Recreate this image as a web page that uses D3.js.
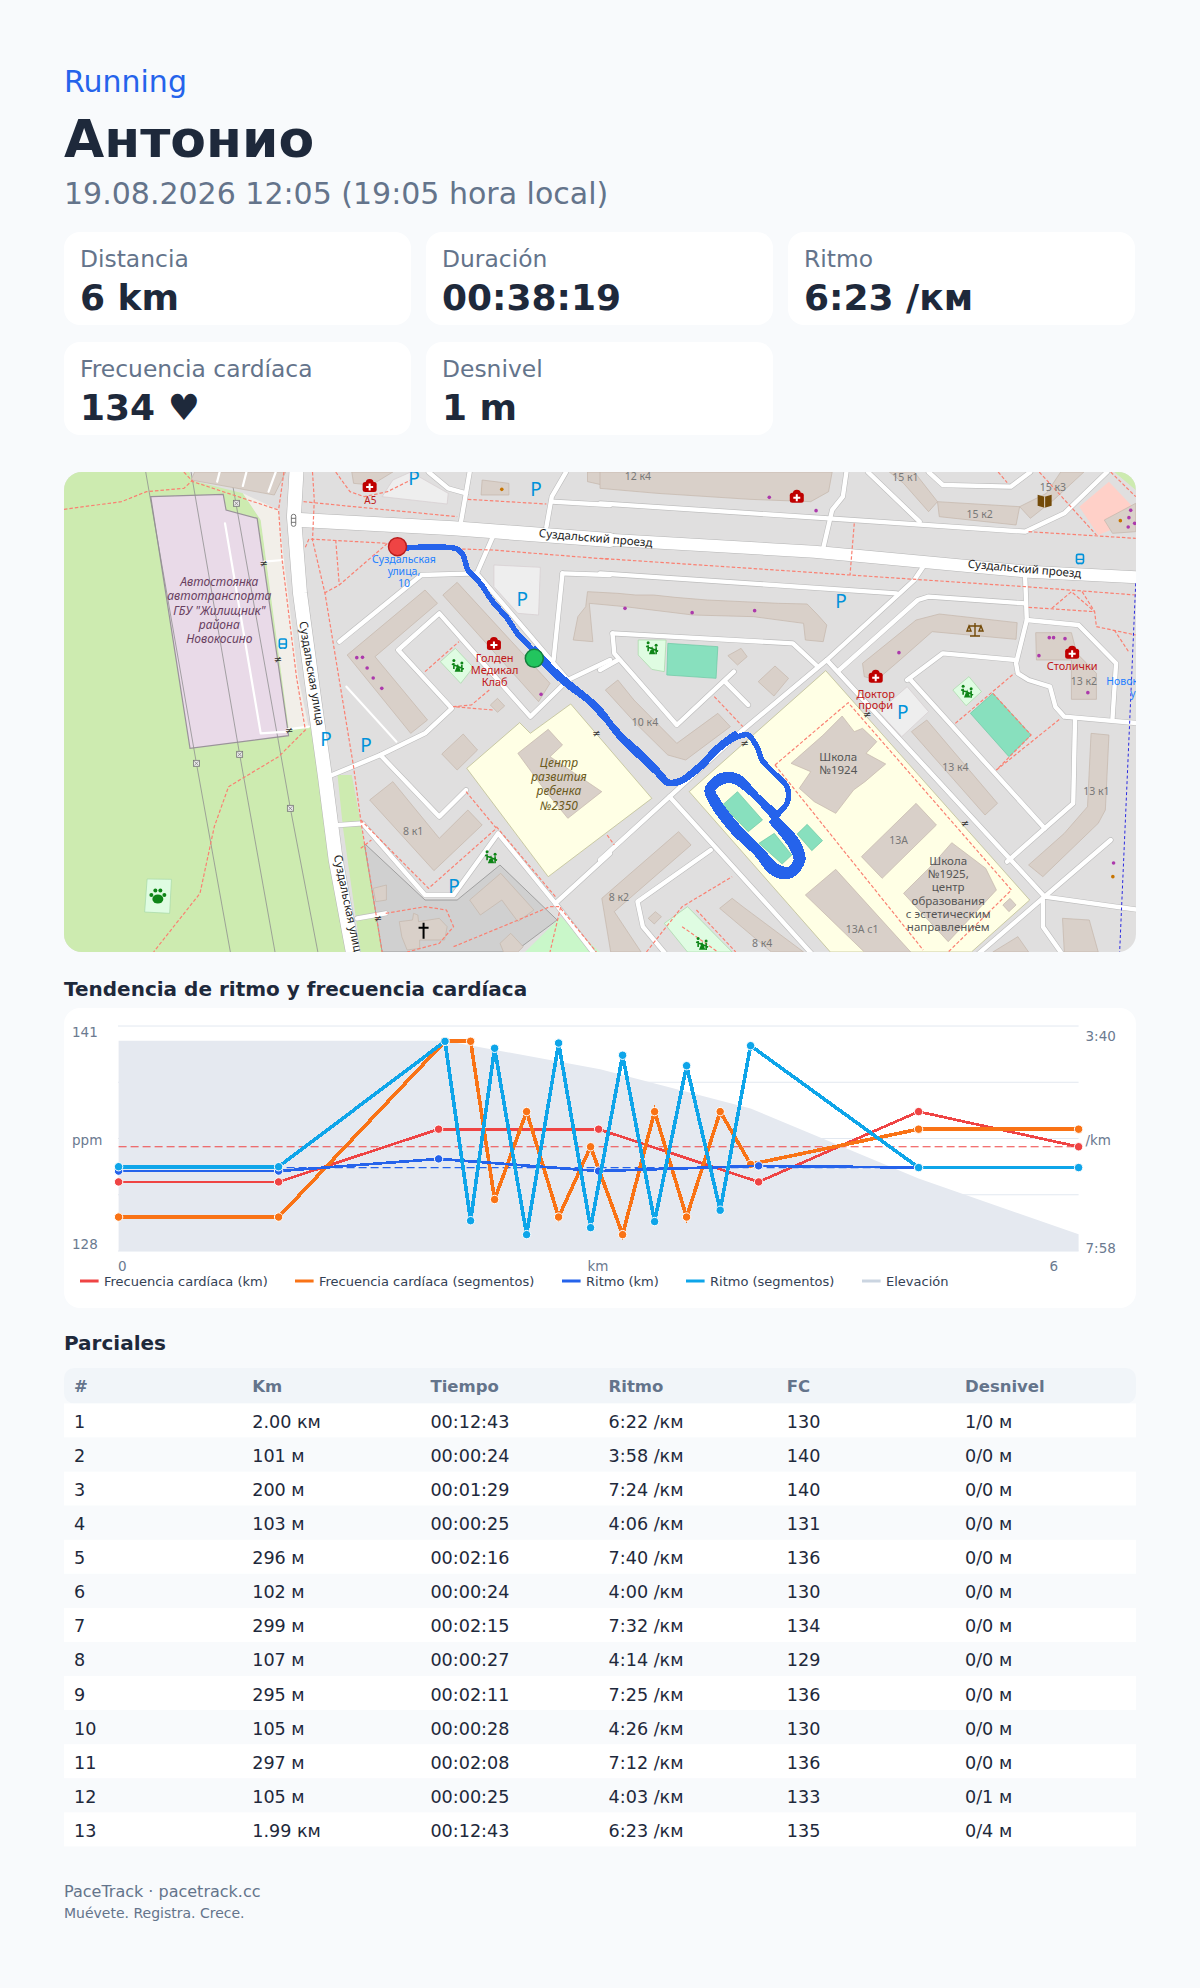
<!DOCTYPE html>
<html>
<head>
<meta charset="utf-8">
<title>Running</title>
<script src="https://cdnjs.cloudflare.com/ajax/libs/d3/7.8.5/d3.min.js"></script>
<style>
html, body { margin: 0; padding: 0; background: #f8fafc; }
svg { display: block; }
text { font-family: "DejaVu Sans", sans-serif; }
.maptext text { font-family: "Noto Sans", sans-serif; }
</style>
</head>
<body>
<div id="page"></div>
<script>
// ---- activity summary
var statLabels = ["Distancia", "Duración", "Ritmo", "Frecuencia cardíaca", "Desnivel"];
var statValues = ["6 km", "00:38:19", "6:23 /км", "134 ♥", "1 m"];

// ---- trend chart data (km along the track, bpm, pace in seconds per km)
var kmMarks = [0, 1, 2, 3, 4, 5, 6];
var hrKm = [132, 132, 135, 135, 132, 136, 134];
var paceKm = [387, 387, 373, 387, 381, 383, 383];
var segMarks = [0, 1, 2.04, 2.2, 2.35, 2.55, 2.75, 2.95, 3.15, 3.35, 3.55, 3.76, 3.95, 5, 6];
var hrSeg = [130, 130, 140, 140, 131, 136, 130, 134, 129, 136, 130, 136, 133, 135, 135];
var paceSeg = [382, 382, 238, 444, 246, 460, 240, 452, 254, 445, 266, 432, 243, 383, 383];
var elevKm = [0, 2.04, 3.01, 3.95, 5, 6];
var elevM = [155, 155, 154.26, 153.25, 151.44, 150];
var hrAvg = 134;
var paceAvg = 383;
var hrDomain = [128.07, 140.87];
var paceDomain = [220.4, 478.8];
var elevDomain = [149.57, 155.38];
var legendNames = ["Frecuencia cardíaca (km)", "Frecuencia cardíaca (segmentos)", "Ritmo (km)", "Ritmo (segmentos)", "Elevación"];

// ---- splits table
var splitHeaders = ["#", "Km", "Tiempo", "Ritmo", "FC", "Desnivel"];
var splitDist = ["2.00 км", "101 м", "200 м", "103 м", "296 м", "102 м", "299 м", "107 м", "295 м", "105 м", "297 м", "105 м", "1.99 км"];
var splitTime = ["00:12:43", "00:00:24", "00:01:29", "00:00:25", "00:02:16", "00:00:24", "00:02:15", "00:00:27", "00:02:11", "00:00:28", "00:02:08", "00:00:25", "00:12:43"];
var splitPace = ["6:22 /км", "3:58 /км", "7:24 /км", "4:06 /км", "7:40 /км", "4:00 /км", "7:32 /км", "4:14 /км", "7:25 /км", "4:26 /км", "7:12 /км", "4:03 /км", "6:23 /км"];
var splitHr = [130, 140, 140, 131, 136, 130, 134, 129, 136, 130, 136, 133, 135];
var splitElev = ["1/0 м", "0/0 м", "0/0 м", "0/0 м", "0/0 м", "0/0 м", "0/0 м", "0/0 м", "0/0 м", "0/0 м", "0/0 м", "0/1 м", "0/4 м"];

// ---- map sheet: everything is in sheet units, west and east sheet overlap
var westGrass = [[39,36],[390,36],[400,62],[540,100],[590,180],[670,800],[730,800],[835,1476],[39,1476]];
var westGrass2 = [[805,945],[845,945],[870,1090],[930,1476],[870,1476],[820,1100]];
var beige = [[540,100],[640,150],[655,300],[695,650],[725,805],[668,805],[590,180]];
var lot = [[282,110],[485,103],[493,150],[580,175],[668,827],[392,865]];
var churchYard = [[880,1150],[1050,1320],[1140,1320],[1260,1215],[1420,1380],[1300,1476],[930,1476]];
var westBuildings = [
  [[405,36],[660,36],[628,105],[395,60]],
  [[1050,390],[1085,430],[910,590],[1057,780],[1010,820],[832,585]],
  [[1140,367],[1400,670],[1368,725],[1100,405]],
  [[1253,715],[1273,738],[1253,757],[1233,735]],
  [[1157,822],[1197,870],[1140,930],[1097,882]],
  [[960,965],[1090,1135],[1170,1050],[1210,1095],[1075,1232],[895,1020]],
  [[1210,60],[1285,70],[1285,105],[1207,105]],
  [[845,36],[960,36],[900,75],[850,70]],
  [[1505,36],[1568,36],[1568,80],[1505,65]],
  [[905,1285],[942,1275],[942,1320],[912,1325]],
  [[1175,1320],[1262,1240],[1355,1350],[1310,1385],[1265,1320],[1205,1365]],
  [[978,1385],[1015,1380],[1018,1360],[1030,1365],[1032,1385],[1090,1375],[1112,1400],[1105,1440],[1035,1440],[1035,1465],[1000,1470],[985,1430]],
  [[1260,1450],[1290,1420],[1325,1460],[1310,1476],[1270,1476]]
];
var westParking = [[[1243,315],[1373,322],[1368,465],[1310,460],[1243,380]], [[960,60],[1010,36],[1115,100],[1112,132],[930,110]]];
var westPlay = [[[1135,565],[1185,622],[1150,670],[1093,605]], [[272,1257],[340,1258],[335,1360],[265,1356]], [[1330,1476],[1430,1370],[1540,1476]]];
var schoolWest = [[1167,925],[1315,788],[1345,820],[1458,732],[1685,1015],[1395,1250]];
var schoolWestBuilding = [[1395,808],[1435,855],[1400,890],[1545,995],[1450,1075],[1385,990],[1310,880]];
var westRoadsMajor = [
  [[690,36],[683,170],[700,400],[740,720],[770,950],[800,1200],[848,1476]],
  [[700,180],[1130,205],[1568,240]]
];
var westRoads = [
  [[1175,36],[1150,190]],
  [[1445,36],[1405,110],[1390,200]],
  [[1405,125],[1568,135]],
  [[1060,36],[1115,85],[1165,100]],
  [[1240,230],[1195,340],[1040,345],[810,545]],
  [[1195,340],[1450,660],[1345,770],[1090,460],[975,570],[1125,745],[1050,820],[925,885],[790,945]],
  [[925,885],[1090,1070],[1165,990]],
  [[810,1095],[875,1090],[1050,1305],[1130,1305],[1255,1120],[1415,1330],[1568,1180]],
  [[1450,660],[1568,600]],
  [[1435,340],[1410,600]],
  [[1435,340],[1568,345]],
  [[1415,1330],[1520,1476]],
  [[860,1375],[940,1360]]
];
var westThin = [[[490,190],[590,820],[665,815]], [[600,305],[652,300]], [[665,808],[725,800]], [[830,680],[970,845]], [[475,36],[468,65]], [[550,36],[540,78]], [[632,36],[612,95]]];
var powerLines = [
  [[268,36],[410,910],[505,1476]],
  [[395,36],[531,883],[630,1476]],
  [[505,36],[673,1045],[750,1476]]
];
var towers = [[522,130],[531,883],[410,910],[673,1045]];
var westPaths = [
  [[39,148],[200,125],[270,95],[375,85],[400,60]],
  [[375,36],[400,65],[640,150],[650,300],[690,650],[715,810],[640,890],[500,980],[460,1100],[420,1300],[290,1476]],
  [[655,36],[640,150]],
  [[800,36],[840,95],[880,110],[945,95],[1010,60]],
  [[710,125],[850,140],[1140,170]],
  [[735,36],[740,120],[735,240],[770,400],[850,920],[870,1080],[930,1476]],
  [[715,262],[725,237],[945,250],[810,375],[770,398]],
  [[800,240],[810,375]],
  [[1000,262],[1240,270],[1568,298]],
  [[1170,118],[1390,132]],
  [[1050,635],[1145,545]],
  [[1230,690],[1180,735],[1130,740],[1240,750]],
  [[870,1080],[1060,1285],[1250,1105],[1165,995]],
  [[1250,1100],[1415,1310]],
  [[870,1165],[900,1140]],
  [[940,1360],[1050,1340],[1110,1350],[1130,1400],[1090,1450],[1000,1476]],
  [[1130,1460],[1300,1385],[1400,1340],[1430,1340],[1400,1476]],
  [[1430,1345],[1530,1476]]
];
var eastSchool = [[250,995],[632,632],[1203,1320],[1040,1476],[645,1476]];
var eastBuildings = [
  [[0,36],[650,36],[640,95],[590,125],[420,118],[160,100],[0,85]],
  [[810,36],[880,36],[945,125],[920,155],[850,70]],
  [[945,125],[1175,140],[1165,195],[950,170]],
  [[1175,140],[1250,100],[1290,36],[1355,36],[1270,120],[1205,175]],
  [[-75,540],[-62,470],[-40,440],[-35,395],[50,400],[100,405],[150,405],[210,412],[300,420],[400,425],[500,430],[580,432],[610,465],[635,495],[625,545],[575,540],[570,490],[430,470],[260,465],[70,440],[-30,430],[-20,545]],
  [[678,768],[712,815],[735,805],[775,845],[745,880],[800,912],[742,965],[710,990],[660,1060],[600,1025],[558,985],[590,935],[535,910],[625,825]],
  [[885,1030],[942,1095],[790,1255],[732,1190]],
  [[660,1228],[870,1476],[740,1476],[575,1305]],
  [[985,1148],[1080,1225],[1110,1290],[975,1445],[850,1300],[930,1215]],
  [[1148,1315],[1165,1335],[1145,1355],[1128,1335]],
  [[915,780],[1113,1030],[1078,1065],[872,815]],
  [[1375,820],[1425,825],[1415,1050],[1395,1090],[1240,1250],[1200,1215],[1300,1120],[1365,1040]],
  [[735,610],[885,480],[950,462],[1168,488],[1165,538],[930,515],[840,600],[775,660],[740,650]],
  [[1220,518],[1320,518],[1335,580],[1390,640],[1390,718],[1320,718],[1320,600],[1222,600]],
  [[15,690],[50,660],[95,720],[215,850],[330,760],[365,800],[240,900],[190,885],[100,790]],
  [[220,1115],[255,1155],[40,1355],[115,1476],[30,1476],[5,1315]],
  [[370,1315],[400,1340],[570,1476],[480,1476],[335,1345]],
  [[395,565],[412,590],[385,615],[358,587]],
  [[490,618],[528,655],[487,708],[443,665]],
  [[1412,180],[1500,130],[1500,215],[1435,220]],
  [[1295,1375],[1370,1380],[1395,1476],[1300,1476]],
  [[135,1375],[155,1355],[172,1370],[152,1392]],
  [[1100,1476],[1170,1430],[1200,1476]]
];
var eastPitches = [
  [[190,550],[330,560],[325,655],[187,645]],
  [[385,995],[455,1080],[415,1115],[343,1035]],
  [[488,1120],[537,1185],[510,1212],[445,1150]],
  [[580,1093],[623,1142],[593,1172],[552,1122]],
  [[1100,700],[1207,825],[1145,890],[1037,760]]
];
var eastPlay = [
  [[107,540],[185,540],[180,635],[145,628],[107,585]],
  [[1033,650],[1068,695],[1025,737],[988,690]],
  [[180,1390],[245,1340],[370,1476],[245,1476]]
];
var eastParking = [[[860,680],[920,755],[845,830],[780,755]]];
var eastPink = [[1425,65],[1500,150],[1500,180],[1395,225],[1342,140]];
var eastGrass = [[1440,36],[1500,36],[1500,90]];
var eastRoadsMajor = [[[0,238],[600,275],[1200,335],[1510,352]]];
var eastRoads = [
  [[690,36],[680,110],[650,150],[625,265]],
  [[0,130],[640,175],[1190,215],[1300,160],[1420,36]],
  [[750,36],[895,185]],
  [[920,36],[960,75],[1150,80],[1205,36]],
  [[0,340],[830,400]],
  [[905,320],[880,360],[635,600],[400,810],[195,1010],[0,1200]],
  [[635,600],[1245,1310],[1510,1350]],
  [[1245,1310],[1050,1490]],
  [[35,520],[540,550],[605,615]],
  [[35,520],[40,580],[215,795],[375,635]],
  [[350,665],[415,735]],
  [[0,630],[50,600]],
  [[195,1010],[600,1490]],
  [[310,1170],[105,1325],[120,1400],[190,1490]],
  [[670,630],[890,420],[920,410],[1190,430]],
  [[1190,340],[1195,480],[1165,610],[1170,640],[1200,660],[1260,680],[1275,740],[1300,770],[1510,790]],
  [[1195,480],[1340,495],[1445,610],[1435,775]],
  [[860,660],[960,580],[1165,600]],
  [[870,660],[1245,1105],[1140,1205]],
  [[1330,780],[1325,1030],[1245,1105]],
  [[1430,1140],[1245,1310]],
  [[1240,1320],[1240,1400],[1290,1476]]
];
var eastPaths = [
  [[0,295],[700,345],[1190,380],[1500,405]],
  [[712,190],[700,345]],
  [[1265,445],[1320,395],[1385,455],[1390,500],[1500,525]],
  [[1200,442],[1385,455]],
  [[1350,395],[1385,455]],
  [[1440,510],[1480,575]],
  [[1110,930],[1290,775]],
  [[995,790],[1160,640]],
  [[1100,700],[1207,825],[1110,930]],
  [[320,710],[400,800]],
  [[20,1125],[40,1155]],
  [[1230,36],[1390,225]],
  [[1200,215],[1500,235]],
  [[1430,36],[1500,110]],
  [[1115,36],[1140,68]],
  [[130,1476],[230,1340],[370,1250]],
  [[230,1400],[330,1476]],
  [[270,1350],[380,1476]],
  [[490,915],[695,728],[1152,1290],[975,1476]],
  [[490,915],[905,1470]]
];
var boundary = [[1500,370],[1455,1476]];
// gps track in page pixels, out and back overlap on the avenue, then two laps round the pitches
var trackOut = [[405,548],[433,547],[457,549],[463,555],[468,570],[480,583],[493,602],[507,618],[517,633],[530,647],[547,667],[567,685],[587,700],[607,721],[622,740],[640,757],[657,773],[667,783],[680,782],[700,768],[720,748],[737,737],[748,735],[757,747],[762,760],[773,772],[787,787],[787,803],[777,814]];
var trackBack = [[535,649],[552,668],[570,684],[590,700],[603,713],[611,724],[625,739],[643,755],[660,773],[669,782],[681,780],[699,766],[719,746],[735,734]];
var lapOne = [[777,815],[757,797],[737,777],[720,777],[708,790],[713,803],[733,830],[757,853],[773,872],[790,875],[802,860],[797,843],[777,820]];
var lapTwo = [[777,820],[752,793],[733,780],[720,782],[712,790],[717,801],[737,827],[760,850],[776,867],[790,870],[797,860],[792,846],[773,822]];
var startPoint = [973, 260];
var finishPoint = [1356, 595];
var purpleWest = [[859,593],[875,592],[888,624],[905,654],[929,685],[1375,703]];
var purpleEast = [[474,112],[605,152],[70,445],[258,458],[433,452],[837,578],[1258,533],[1270,533],[1302,536],[1229,587],[1366,698],[1438,1209],[1486,151],[1481,173],[1497,190],[1479,201]];
var orangeWest = [[1265,88]];
var orangeEast = [[1457,182],[1436,1250]];
var parkWest = [[1019,55],[1361,88],[1322,418],[773,838],[885,855],[1131,1278]];
var parkEast = [[675,424],[848,757]];
var medWest = [[895,78],[1243,552]];
var medEast = [[551,110],[772,650],[1322,578]];
var playWest = [[1142,618],[1235,1192]];
var playEast = [[146,565],[1028,695],[286,1452]];
var gatesWest = [[598,310],[638,598],[1530,820],[670,812],[918,1376]];
var gatesEast = [[405,850],[748,763],[1022,1090]];
var westLabels = [
  ["Суздальский проезд", 1527, 246, 5, "#222", "normal", 11.5],
  ["Суздальская улица", 722, 642, 80.5, "#222", "normal", 11.5],
  ["Суздальская улица", 825, 1342, 78, "#222", "normal", 11.5],
  ["Суздальская", 991, 310, 0, "#1e80ff", "normal", 10.5],
  ["улица,", 991, 346, 0, "#1e80ff", "normal", 10.5],
  ["10", 991, 381, 0, "#1e80ff", "normal", 10.5],
  ["А5", 897, 131, 0, "#c01818", "normal", 10],
  ["Автостоянка", 474, 378, 0, "#68405f", "italic", 12],
  ["автотранспорта", 474, 421, 0, "#68405f", "italic", 12],
  ["ГБУ \"Жилищник\"", 474, 464, 0, "#68405f", "italic", 12],
  ["района", 474, 507, 0, "#68405f", "italic", 12],
  ["Новокосино", 474, 550, 0, "#68405f", "italic", 12],
  ["Голден", 1245, 607, 0, "#c01818", "normal", 11],
  ["Медикал", 1245, 642, 0, "#c01818", "normal", 11],
  ["Клаб", 1245, 677, 0, "#c01818", "normal", 11],
  ["Центр", 1425, 920, 0, "#6b5a20", "italic", 12],
  ["развития", 1425, 963, 0, "#6b5a20", "italic", 12],
  ["ребенка", 1425, 1006, 0, "#6b5a20", "italic", 12],
  ["№2350", 1425, 1049, 0, "#6b5a20", "italic", 12],
  ["8 к1", 1017, 1126, 0, "#777", "normal", 10.5]
];
var eastLabels = [
  ["Суздальский проезд", 1188, 338, 5, "#222", "normal", 11.5],
  ["12 к4", 106, 60, 0, "#777", "normal", 10.5],
  ["15 к1", 855, 62, 0, "#777", "normal", 10.5],
  ["15 к2", 1063, 173, 0, "#777", "normal", 10.5],
  ["15 к3", 1268, 92, 0, "#777", "normal", 10.5],
  ["10 к4", 126, 797, 0, "#777", "normal", 10.5],
  ["13 к2", 1355, 675, 0, "#777", "normal", 10.5],
  ["13 к4", 995, 932, 0, "#777", "normal", 10.5],
  ["13 к1", 1390, 1005, 0, "#777", "normal", 10.5],
  ["13А", 836, 1153, 0, "#777", "normal", 10.5],
  ["13А с1", 734, 1418, 0, "#777", "normal", 10.5],
  ["8 к2", 53, 1322, 0, "#777", "normal", 10.5],
  ["8 к4", 454, 1462, 0, "#777", "normal", 10.5],
  ["Столички", 1322, 631, 0, "#c01818", "normal", 11],
  ["Доктор", 772, 713, 0, "#c01818", "normal", 11],
  ["профи", 772, 748, 0, "#c01818", "normal", 11],
  ["Школа", 667, 903, 0, "#555", "normal", 11.5],
  ["№1924", 667, 943, 0, "#555", "normal", 11.5],
  ["Школа", 975, 1214, 0, "#555", "normal", 11.5],
  ["№1925,", 975, 1254, 0, "#555", "normal", 11.5],
  ["центр", 975, 1294, 0, "#555", "normal", 11.5],
  ["образования", 975, 1334, 0, "#555", "normal", 11.5],
  ["с эстетическим", 975, 1373, 0, "#555", "normal", 11.5],
  ["направлением", 975, 1412, 0, "#555", "normal", 11.5],
  ["Новок", 1462, 675, 0, "#1e80ff", "normal", 10.5],
  ["у", 1492, 712, 0, "#1e80ff", "normal", 10.5]
];

var svg = d3.select("#page").append("svg").attr("width", 1200).attr("height", 1988);
svg.append("rect").attr("width", 1200).attr("height", 1988).attr("fill", "#f8fafc");

// header
svg.append("text").attr("x", 64).attr("y", 92).attr("font-size", 30).attr("fill", "#2563eb").text("Running");
svg.append("text").attr("x", 64).attr("y", 157).attr("font-size", 52).attr("font-weight", "bold").attr("fill", "#1e293b").text("Антонио");
svg.append("text").attr("x", 64).attr("y", 204).attr("font-size", 30).attr("fill", "#64748b").text("19.08.2026 12:05 (19:05 hora local)");

// stat cards
var cardX = d3.scaleBand().domain([0, 1, 2]).range([64, 1136]).paddingInner(0.0387);
var cards = svg.selectAll("g.card").data(statLabels).enter().append("g").attr("class", "card")
  .attr("transform", function(d, i) { return "translate(" + cardX(i % 3) + "," + (i < 3 ? 232 : 342) + ")"; });
cards.append("rect").attr("width", 347).attr("height", 93).attr("rx", 16).attr("fill", "#fff");
cards.append("text").attr("x", 16).attr("y", 35).attr("font-size", 23.4).attr("fill", "#64748b").text(function(d) { return d; });
cards.append("text").attr("x", 16).attr("y", 77.5).attr("font-size", 36).attr("font-weight", "bold").attr("fill", "#1e293b")
  .text(function(d, i) { return statValues[i]; });

// ---- map
var defs = svg.append("defs");
defs.append("clipPath").attr("id", "mapclip").append("rect")
  .attr("x", 64).attr("y", 472).attr("width", 1072).attr("height", 480).attr("rx", 18);
var sheetY = d3.scaleLinear().domain([0, 1500]).range([460, 960]);
var westX = d3.scaleLinear().domain([0, 1568]).range([50, 610]);
var eastX = d3.scaleLinear().domain([0, 1568]).range([600, 1160]);
var lineW = d3.line().x(function(p) { return westX(p[0]); }).y(function(p) { return sheetY(p[1]); });
var lineE = d3.line().x(function(p) { return eastX(p[0]); }).y(function(p) { return sheetY(p[1]); });
var map = svg.append("g").attr("clip-path", "url(#mapclip)");
map.append("rect").attr("x", 64).attr("y", 472).attr("width", 1072).attr("height", 480).attr("fill", "#e0dfdf");

function polys(list, gen, fill, stroke, width) {
  map.append("g").selectAll("path").data(list).enter().append("path")
    .attr("d", function(p) { return gen(p) + "Z"; })
    .attr("fill", fill).attr("stroke", stroke || "none").attr("stroke-width", width || 1);
}
function lines(list, gen, color, width, dash) {
  map.append("g").selectAll("path").data(list).enter().append("path")
    .attr("d", gen).attr("fill", "none").attr("stroke", color).attr("stroke-width", width)
    .attr("stroke-linejoin", "round").attr("stroke-linecap", dash ? "butt" : "round")
    .attr("stroke-dasharray", dash || null);
}

polys([westGrass, westGrass2], lineW, "#cdebb0");
polys([eastGrass], lineE, "#cdebb0");
polys([beige], lineW, "#f2efe9");
polys([churchYard], lineW, "#d0d0d0", "#888", 0.7);
polys([lot], lineW, "#e9dae8", "#9a939a", 1.2);
polys([schoolWest], lineW, "#ffffe5", "#b9b98a", 0.7);
polys([eastSchool], lineE, "#ffffe5", "#b9b98a", 0.7);
polys([eastPink], lineE, "#ffd0c8");
polys(westParking, lineW, "#eeeeee", "#d5cdd0", 0.7);
polys(eastParking, lineE, "#eeeeee", "#d5cdd0", 0.7);
polys(westPlay.slice(0, 2), lineW, "#dffce2", "#a6d8a8", 0.7);
polys(westPlay.slice(2), lineW, "#c9f7c9");
polys(eastPlay, lineE, "#dffce2", "#a6d8a8", 0.7);
lines(powerLines, lineW, "#8f8f8f", 0.8);
polys(eastPitches, lineE, "#88e0be", "#6cc8a4", 0.7);

lines(westRoads, lineW, "#bdbdbd", 5.6);
lines(eastRoads, lineE, "#bdbdbd", 5.6);
lines(westRoadsMajor, lineW, "#b5b5b5", 15);
lines(eastRoadsMajor, lineE, "#b5b5b5", 13);
polys(westBuildings, lineW, "#d9d0c9", "#c4b6ab", 0.7);
polys([schoolWestBuilding], lineW, "#d9d0c9", "#c4b6ab", 0.7);
polys(eastBuildings, lineE, "#d9d0c9", "#c4b6ab", 0.7);
lines(westRoads, lineW, "#fff", 4.4);
lines(eastRoads, lineE, "#fff", 4.4);
lines(westThin, lineW, "#fff", 2.2);
lines(westRoadsMajor, lineW, "#fff", 14);
lines(eastRoadsMajor, lineE, "#fff", 12);

lines(westPaths, lineW, "#fa8072", 1.2, "3.5 2");
lines(eastPaths, lineE, "#fa8072", 1.2, "3.5 2");
lines([boundary], lineE, "#2a2ae0", 1, "3 2.5");

// map symbols
function dots(list, sc, color, r) {
  map.append("g").selectAll("circle").data(list).enter().append("circle")
    .attr("cx", function(p) { return sc(p[0]); }).attr("cy", function(p) { return sheetY(p[1]); })
    .attr("r", r).attr("fill", color);
}
dots(purpleWest, westX, "#ac39ac", 1.8);
dots(purpleEast, eastX, "#ac39ac", 1.8);
dots(orangeWest, westX, "#c77400", 1.8);
dots(orangeEast, eastX, "#c77400", 1.8);

function place(list, sc) {
  return map.append("g").selectAll("g").data(list).enter().append("g")
    .attr("transform", function(p) { return "translate(" + sc(p[0]) + "," + sheetY(p[1]) + ")"; });
}
function parkSigns(list, sc) {
  place(list, sc).append("text").attr("text-anchor", "middle").attr("y", 7).attr("font-size", 19)
    .style("font-family", "'Noto Sans', sans-serif").attr("fill", "#0092da").text("P");
}
parkSigns(parkWest, westX);
parkSigns(parkEast, eastX);
function medSigns(list, sc) {
  var g = place(list, sc);
  g.append("rect").attr("x", -7).attr("y", -4).attr("width", 14).attr("height", 10).attr("rx", 2.5).attr("fill", "#bf0000");
  g.append("path").attr("d", "M-4,-3A4,4 0 0 1 4,-3Z").attr("fill", "#bf0000");
  g.append("path").attr("d", "M-3.5,1H3.5M0,-2.5V4.5").attr("stroke", "#fff").attr("stroke-width", 2);
}
medSigns(medWest, westX);
medSigns(medEast, eastX);
function playSigns(list, sc) {
  var g = place(list, sc);
  g.append("path").attr("d", "M-6,-2L6,3M-4,-3V3M4,-1V6M0,0L-2,5H2Z").attr("stroke", "#0e8517").attr("stroke-width", 1.6).attr("fill", "#0e8517");
  g.append("circle").attr("cx", -4).attr("cy", -5.5).attr("r", 1.5).attr("fill", "#0e8517");
  g.append("circle").attr("cx", 4).attr("cy", -3).attr("r", 1.5).attr("fill", "#0e8517");
}
playSigns(playWest, westX);
playSigns(playEast, eastX);
function gateSigns(list, sc) {
  place(list, sc).append("text").attr("text-anchor", "middle").attr("y", 3.5).attr("font-size", 10).attr("fill", "#333").text("≠");
}
gateSigns(gatesWest, westX);
gateSigns(gatesEast, eastX);
// paw, cross, towers and other one-off signs
var paw = map.append("g").attr("transform", "translate(" + westX(302) + "," + sheetY(1308) + ")").attr("fill", "#0e8517");
paw.append("ellipse").attr("cy", 3).attr("rx", 5.5).attr("ry", 4.5);
paw.selectAll("circle").data([[-6.5,-1],[-2.5,-5.5],[2.5,-5.5],[6.5,-1]]).enter().append("circle")
  .attr("cx", function(p) { return p[0]; }).attr("cy", function(p) { return p[1]; }).attr("r", 2);
map.append("path").attr("transform", "translate(" + westX(1046) + "," + sheetY(1412) + ")")
  .attr("d", "M0,-8V8M-5,-3H5").attr("stroke", "#000").attr("stroke-width", 2);
var tw = place(towers, westX);
tw.append("rect").attr("x", -3).attr("y", -3).attr("width", 6).attr("height", 6).attr("fill", "#e8e8e8").attr("stroke", "#777").attr("stroke-width", 0.8);
tw.append("path").attr("d", "M-2,-2L2,2M2,-2L-2,2").attr("stroke", "#777").attr("stroke-width", 0.7);
function busSign(g) {
  g.append("rect").attr("x", -3.5).attr("y", -5).attr("width", 7).attr("height", 9).attr("rx", 1.5).attr("fill", "none").attr("stroke", "#0092da").attr("stroke-width", 1.6);
  g.append("path").attr("d", "M-3.5,0H3.5M-2,5V4M2,5V4").attr("stroke", "#0092da").attr("stroke-width", 1.4);
}
busSign(place([[1344, 298]], eastX));
busSign(place([[652, 552]], westX));
var book = place([[1245, 122]], eastX);
book.append("path").attr("d", "M-7,-6L0,-4L7,-6V5L0,7L-7,5Z").attr("fill", "#734a08");
book.append("path").attr("d", "M0,-4V7").attr("stroke", "#fff").attr("stroke-width", 0.8);
var law = place([[1050, 510]], eastX);
law.append("path").attr("d", "M0,-7V6M-5,6H5M-6,-4H6M-6,-4L-8,1H-4ZM6,-4L4,1H8Z").attr("fill", "none").attr("stroke", "#734a08").attr("stroke-width", 1.4);
var light = place([[682, 181]], westX);
light.append("rect").attr("x", -2.2).attr("y", -6).attr("width", 4.4).attr("height", 12).attr("rx", 2).attr("fill", "#fff").attr("stroke", "#555").attr("stroke-width", 0.8);
light.append("path").attr("d", "M-2,-2H2M-2,2H2").attr("stroke", "#555").attr("stroke-width", 0.8);

// labels
function labels(list, sc) {
  map.append("g").attr("class", "maptext").selectAll("text").data(list).enter().append("text")
    .attr("text-anchor", "middle")
    .attr("transform", function(d) { return "translate(" + sc(d[1]) + "," + sheetY(d[2]) + ") rotate(" + d[3] + ")"; })
    .attr("fill", function(d) { return d[4]; })
    .attr("font-style", function(d) { return d[5]; })
    .attr("font-size", function(d) { return d[6]; })
    .text(function(d) { return d[0]; });
}
labels(westLabels, westX);
labels(eastLabels, eastX);

// track and markers
var trackLine = d3.line().curve(d3.curveCatmullRom.alpha(0.5));
map.append("g").selectAll("path").data([trackOut, trackBack, lapOne, lapTwo]).enter().append("path")
  .attr("d", trackLine).attr("fill", "none").attr("stroke", "#2563eb")
  .attr("stroke-width", function(d, i) { return i < 2 ? 5.5 : 7; })
  .attr("stroke-linejoin", "round").attr("stroke-linecap", "round")
  .attr("shape-rendering", "crispEdges");
map.append("circle").attr("cx", westX(startPoint[0])).attr("cy", sheetY(startPoint[1])).attr("r", 9)
  .attr("fill", "#ef4444").attr("stroke", "#b91c1c").attr("stroke-width", 1.5);
map.append("circle").attr("cx", westX(finishPoint[0])).attr("cy", sheetY(finishPoint[1])).attr("r", 9)
  .attr("fill", "#22c55e").attr("stroke", "#15803d").attr("stroke-width", 1.5);

// ---- trend chart
svg.append("text").attr("x", 64).attr("y", 996).attr("font-size", 20).attr("font-weight", "bold").attr("fill", "#1e293b")
  .text("Tendencia de ritmo y frecuencia cardíaca");
svg.append("rect").attr("x", 64).attr("y", 1008).attr("width", 1072).attr("height", 300).attr("rx", 16).attr("fill", "#fff");

var plotTop = 1026, plotBottom = 1251;
var x = d3.scaleLinear().domain([0, 6]).range([118.6, 1078.6]);
var yHr = d3.scaleLinear().domain(hrDomain).range([plotBottom, plotTop]);
var yPace = d3.scaleLinear().domain(paceDomain).range([plotTop, plotBottom]);
var yElev = d3.scaleLinear().domain(elevDomain).range([plotBottom, plotTop]);
var chart = svg.append("g");

chart.append("g").selectAll("line").data(d3.range(5)).enter().append("line")
  .attr("x1", 118).attr("x2", 1078.6)
  .attr("y1", function(d) { return plotTop + d * (plotBottom - plotTop) / 4; })
  .attr("y2", function(d) { return plotTop + d * (plotBottom - plotTop) / 4; })
  .attr("stroke", "#e2e8f0").attr("stroke-width", 1);

var elevArea = d3.area().x(function(d, i) { return x(elevKm[i]); }).y0(plotBottom).y1(function(d) { return yElev(d); });
chart.append("path").attr("d", elevArea(elevM)).attr("fill", "#e5e9f0");

chart.append("line").attr("x1", x(0)).attr("x2", x(6)).attr("y1", yHr(hrAvg)).attr("y2", yHr(hrAvg))
  .attr("stroke", "#ef4444").attr("stroke-width", 1.2).attr("stroke-dasharray", "8 4");
chart.append("line").attr("x1", x(0)).attr("x2", x(6)).attr("y1", yPace(paceAvg)).attr("y2", yPace(paceAvg))
  .attr("stroke", "#2563eb").attr("stroke-width", 1.2).attr("stroke-dasharray", "8 4");

function series(xs, ys, scale, color, width) {
  var line = d3.line().x(function(d, i) { return x(xs[i]); }).y(function(d) { return scale(d); });
  chart.append("path").attr("d", line(ys)).attr("fill", "none").attr("stroke", color).attr("stroke-width", width)
    .attr("shape-rendering", "crispEdges");
  chart.append("g").selectAll("circle").data(ys).enter().append("circle")
    .attr("cx", function(d, i) { return x(xs[i]); }).attr("cy", function(d) { return scale(d); })
    .attr("r", 4.2).attr("fill", color).attr("stroke", "#fff").attr("stroke-width", 1);
}
series(kmMarks, hrKm, yHr, "#ef4444", 2.7);
series(segMarks, hrSeg, yHr, "#f97316", 3.6);
series(kmMarks, paceKm, yPace, "#2563eb", 2.7);
series(segMarks, paceSeg, yPace, "#0ea5e9", 3.6);

// axis captions
var axisColor = "#6b7a90";
function caption(tx, ty, t, anchor) {
  chart.append("text").attr("x", tx).attr("y", ty).attr("font-size", 13.5).attr("fill", axisColor)
    .attr("text-anchor", anchor || "start").text(t);
}
caption(72, 1037, String(Math.round(hrDomain[1])));
caption(72, 1145, "ppm");
caption(72, 1249, String(Math.round(hrDomain[0])));
caption(1085.5, 1041, "3:40");
caption(1085.5, 1145, "/km");
caption(1085.5, 1253, "7:58");
caption(118, 1271, "0");
caption(598, 1271, "km", "middle");
caption(1058, 1271, "6", "end");

// legend
var legendX = [80, 295, 562, 686, 862];
var legendColors = ["#ef4444", "#f97316", "#2563eb", "#0ea5e9", "#cbd5e1"];
var legend = chart.append("g").selectAll("g").data(legendNames).enter().append("g")
  .attr("transform", function(d, i) { return "translate(" + legendX[i] + ",1281)"; });
legend.append("rect").attr("width", 18.6).attr("height", 3).attr("y", -1.5)
  .attr("fill", function(d, i) { return legendColors[i]; });
legend.append("text").attr("x", 24).attr("y", 5).attr("font-size", 13).attr("fill", "#334155").text(function(d) { return d; });

// ---- splits
svg.append("text").attr("x", 64).attr("y", 1350).attr("font-size", 20).attr("font-weight", "bold").attr("fill", "#1e293b").text("Parciales");
var colX = d3.scaleBand().domain(d3.range(6)).range([63.3, 1132.5]);
var rowY = d3.scaleBand().domain(d3.range(splitDist.length)).range([1403.5, 1846.4]);
svg.append("rect").attr("x", 64).attr("y", 1368).attr("width", 1072).attr("height", 35.5).attr("rx", 10).attr("fill", "#f1f5f9");
svg.selectAll("text.th").data(splitHeaders).enter().append("text").attr("class", "th")
  .attr("x", function(d, i) { return colX(i) + 10.7; }).attr("y", 1392).attr("font-size", 16.5)
  .attr("font-weight", "bold").attr("fill", "#64748b").text(function(d) { return d; });
var rows = svg.selectAll("g.row").data(splitDist).enter().append("g").attr("class", "row")
  .attr("transform", function(d, i) { return "translate(0," + rowY(i) + ")"; });
rows.append("rect").attr("x", 64).attr("width", 1072).attr("height", rowY.bandwidth())
  .attr("fill", function(d, i) { return i % 2 ? "#f8fafc" : "#fff"; });
rows.each(function(d, i) {
  var cells = [String(i + 1), splitDist[i], splitTime[i], splitPace[i], String(splitHr[i]), splitElev[i]];
  d3.select(this).selectAll("text").data(cells).enter().append("text")
    .attr("x", function(c, j) { return colX(j) + 10.7; }).attr("y", 24.5)
    .attr("font-size", 17.6).attr("fill", "#1e293b").text(function(c) { return c; });
});

// footer
svg.append("text").attr("x", 64).attr("y", 1897).attr("font-size", 16).attr("fill", "#64748b").text("PaceTrack · pacetrack.cc");
svg.append("text").attr("x", 64).attr("y", 1918).attr("font-size", 14).attr("fill", "#64748b").text("Muévete. Registra. Crece.");
</script>
</body>
</html>
